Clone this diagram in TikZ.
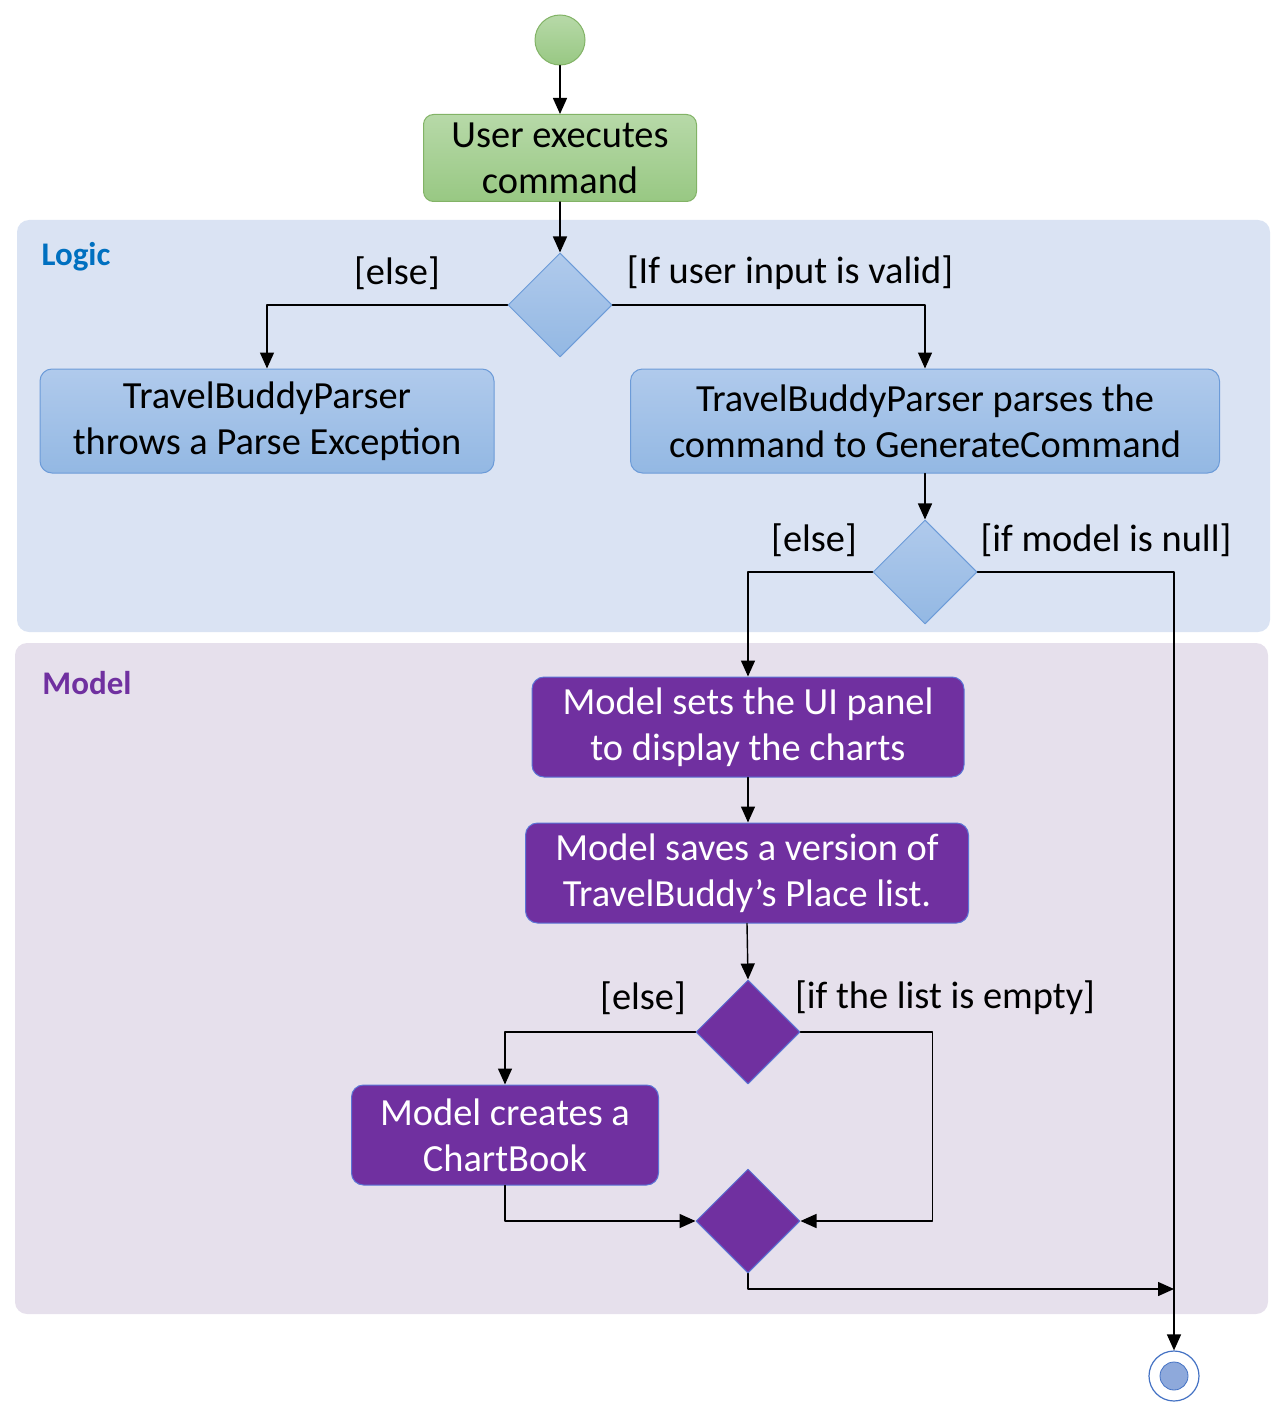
\documentclass[tikz,border=0pt]{standalone}
\usepackage{fontspec}
\setmainfont{Carlito}
\usetikzlibrary{arrows.meta,shapes.geometric,positioning}

\definecolor{logicbg}{HTML}{DAE3F3}
\definecolor{modelbg}{HTML}{E6E0EC}
\definecolor{greentop}{HTML}{B7D9A8}
\definecolor{greenbot}{HTML}{98C883}
\definecolor{greenline}{HTML}{82B366}
\definecolor{bluetop}{HTML}{B0CAEC}
\definecolor{bluebot}{HTML}{93B8E3}
\definecolor{blueline}{HTML}{6C9BD8}
\definecolor{modelpurple}{HTML}{7030A0}
\definecolor{purpleline}{HTML}{5B74D6}
\definecolor{logictext}{HTML}{0070C0}
\definecolor{endblue}{HTML}{8EA9DB}
\definecolor{endline}{HTML}{4472C4}

\begin{document}
\begin{tikzpicture}[x=0.5pt, y=-0.5pt, line cap=round, line join=round,
		>={Triangle[length=8pt,width=7pt]},
		font=\fontsize{19.2}{23}\selectfont,
		flow/.style={->, line width=0.7pt},
		lane/.style={rounded corners=6pt},
		greenbox/.style={rectangle, rounded corners=5pt, draw=greenline, line width=0.5pt,
			top color=greentop, bottom color=greenbot, align=center, inner sep=0pt},
		bluebox/.style={rectangle, rounded corners=6pt, draw=blueline, line width=0.5pt,
			top color=bluetop, bottom color=bluebot, align=center, inner sep=0pt,
			minimum height=52pt},
		purplebox/.style={rectangle, rounded corners=6pt, draw=purpleline, line width=0.5pt,
			fill=modelpurple, text=white, align=center, inner sep=0pt, minimum height=50pt},
		bluedec/.style={diamond, aspect=1, minimum size=52pt, inner sep=0pt,
			draw=blueline, line width=0.5pt, top color=bluetop, bottom color=bluebot},
		purpledec/.style={diamond, aspect=1, minimum size=52pt, inner sep=0pt,
			draw=purpleline, line width=0.5pt, fill=modelpurple},
		guard/.style={inner sep=0pt},
		lanetitle/.style={font=\fontsize{16.5}{19}\selectfont\bfseries, inner sep=0pt}]
	
	\useasboundingbox (0,0) rectangle (1276,1407);
	
	% swimlanes
	\fill[lane, logicbg] (17,220) rectangle (1270,632);
	\fill[lane, modelbg] (15,643) rectangle (1268,1314);
	\node[lanetitle, text=logictext] (logic) at (76,257) {Logic};
	\node[lanetitle, text=modelpurple] (model) at (87,683) {Model};
	
	% start and first action
	\node[circle, minimum size=25pt, inner sep=0pt, draw=greenline, line width=0.5pt,
		top color=greentop, bottom color=greenbot] (start) at (560,40) {};
	\node[greenbox, minimum width=136.5pt, minimum height=43.5pt] (exec) at (560,158)
		{User executes\\command};
	
	% Logic: parsing
	\node[bluedec] (valid) at (560,305) {};
	\node[bluebox, minimum width=227pt] (throw) at (267,421)
		{TravelBuddyParser\\throws a Parse Exception};
	\node[bluebox, minimum width=294.5pt] (parse) at (925,421)
		{TravelBuddyParser parses the\\command to GenerateCommand};
	\node[bluedec] (null) at (925,572) {};
	
	\node[guard] (g1) at (397,273) {[else]};
	\node[guard] (g2) at (790,273) {[If user input is valid]};
	\node[guard] (g3) at (814,540) {[else]};
	\node[guard] (g4) at (1106,540) {[if model is null]};
	
	% Model: charts
	\node[purplebox, minimum width=216pt] (panel) at (748,727)
		{Model sets the UI panel\\to display the charts};
	\node[purplebox, minimum width=221.5pt] (save) at (747,873)
		{Model saves a version of\\TravelBuddy’s Place list.};
	\node[purpledec] (empty) at (748,1032) {};
	\node[purplebox, minimum width=153.5pt] (book) at (505,1135)
		{Model creates a\\ChartBook};
	\node[purpledec] (merge) at (748,1221) {};
	
	\node[guard] (g5) at (643,998) {[else]};
	\node[guard] (g6) at (945,998) {[if the list is empty]};
	
	% end
	\node[circle, minimum size=25pt, inner sep=0pt, draw=endline, line width=0.6pt,
		fill=white] (final) at (1174,1376) {};
	\fill[endblue, draw=endline, line width=0.4pt] (final.center) circle (7pt);
	\coordinate (join) at (1174,1289);
	
	% connectors
	\draw[flow] (start) -- (exec);
	\draw[flow] (exec) -- (valid);
	\draw[flow] (valid.west) -| (throw.north);
	\draw[flow] (valid.east) -| (parse.north);
	\draw[flow] (parse) -- (null);
	\draw[flow] (null.west) -| (panel.north);
	\draw[flow] (null.east) -| (final.north);
	\draw[flow] (panel.south) -- (panel.south |- save.north);
	\draw[flow] (save.south) -- (empty.north);
	\draw[flow] (empty.west) -| (book.north);
	\draw[flow] (empty.east) -- ++(132,0) |- (merge.east);
	\draw[flow] (book.south) |- (merge.west);
	\draw[flow] (merge.south) |- (join);
	
\end{tikzpicture}
\end{document}
